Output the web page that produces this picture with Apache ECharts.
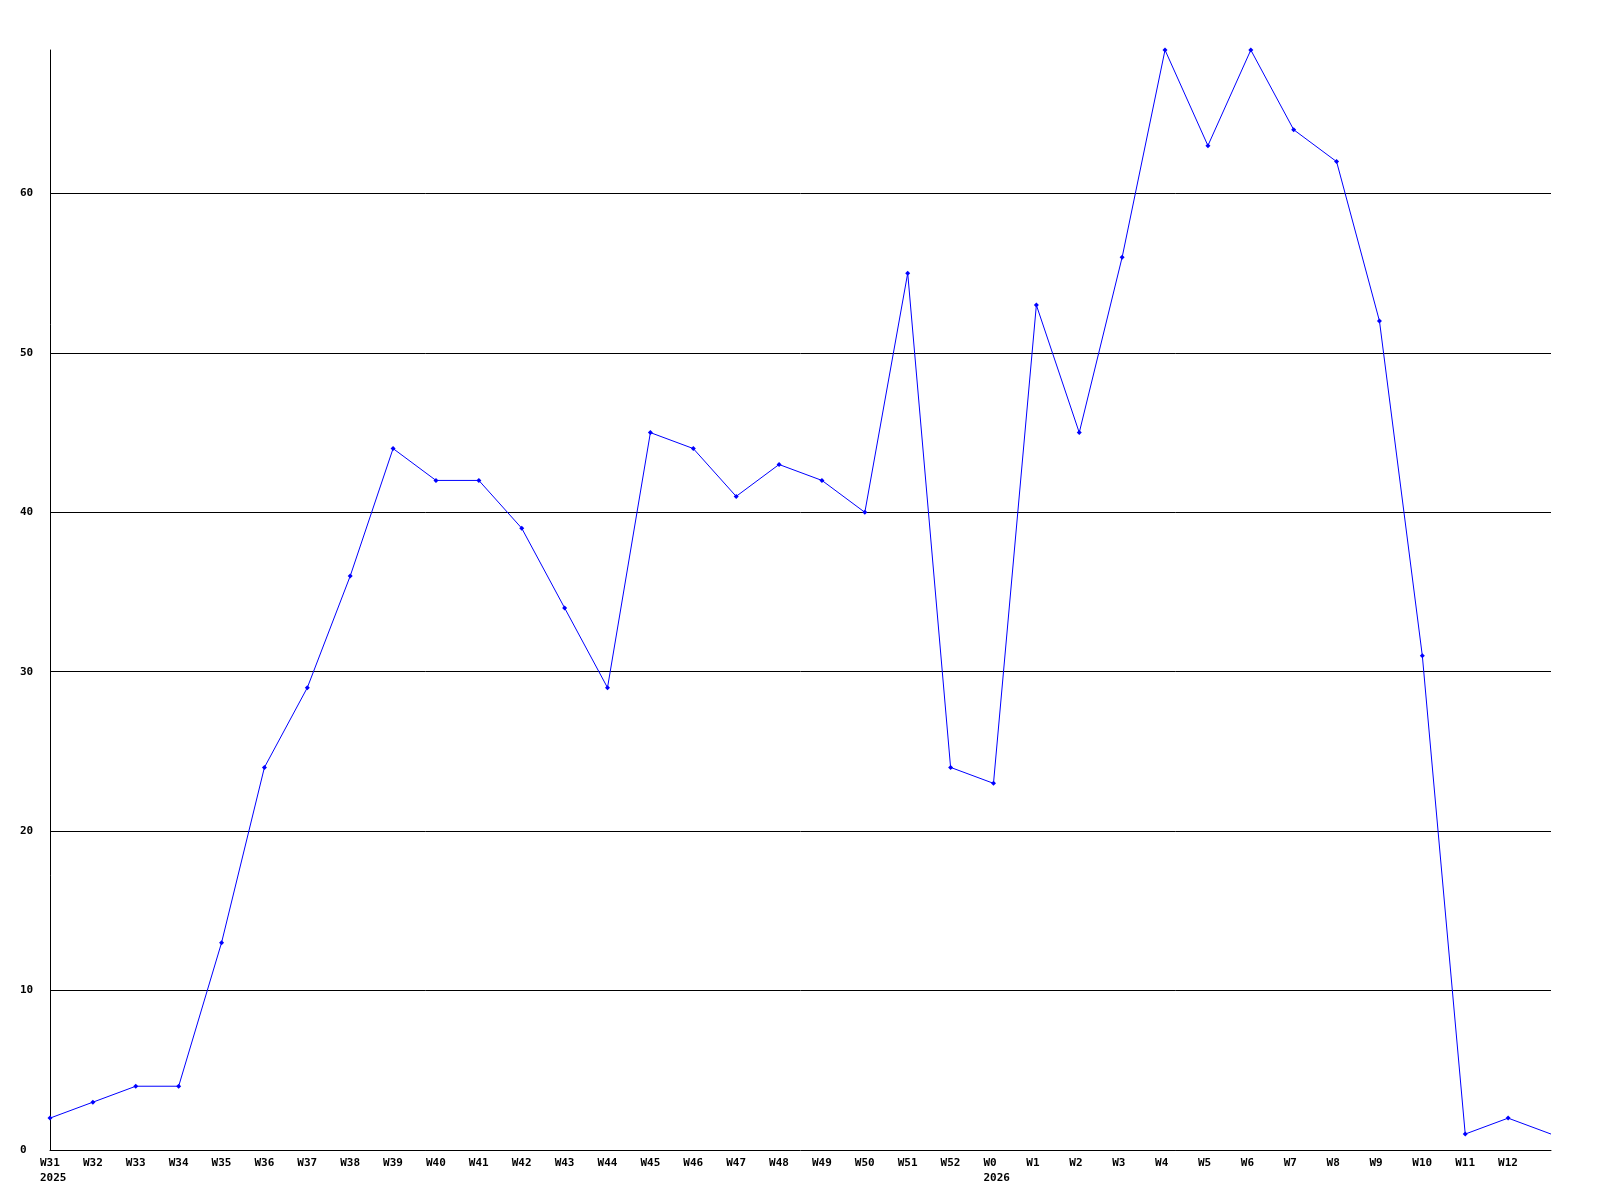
<!DOCTYPE html>
<html>
<head>
<meta charset="utf-8">
<script src="https://cdn.jsdelivr.net/npm/echarts@6/dist/echarts.min.js"></script>
<style>html,body{margin:0;padding:0;background:#fff}#c{width:1600px;height:1200px}</style>
</head>
<body>
<div id="c"></div>
<script>
const weeks = ['W31','W32','W33','W34','W35','W36','W37','W38','W39','W40','W41','W42','W43','W44','W45','W46','W47','W48','W49','W50','W51','W52','W0','W1','W2','W3','W4','W5','W6','W7','W8','W9','W10','W11','W12','W13'];
const values = [2,3,4,4,13,24,29,36,44,42,42,39,34,29,45,44,41,43,42,40,55,24,23,53,45,56,69,63,69,64,62,52,31,1,2,1];
const yearMarks = [['W31','2025'],['W0','2026']];
const yMax = 69;
const yInterval = 10;

const chart = echarts.init(document.getElementById('c'), null, {renderer:'canvas'});
const font = 'DejaVu Sans Mono';
const yearOf = {};
yearMarks.forEach(([w,y]) => { yearOf[w] = y; });
const lastIdx = weeks.length - 1;
chart.setOption({
  animation: false,
  backgroundColor: '#fff',
  grid: {left: 50, right: 49, top: 50, bottom: 50, containLabel: false},
  xAxis: {
    type: 'category',
    data: weeks,
    boundaryGap: false,
    axisLine: {show: true, lineStyle: {color: '#000', width: 1}},
    axisTick: {show: false},
    splitLine: {show: false},
    axisLabel: {
      interval: 0,
      margin: 6,
      fontFamily: font,
      fontWeight: 'bold',
      fontSize: 11,
      color: '#000',
      lineHeight: 15,
      formatter: function (v, i) {
        if (i === lastIdx) return '';
        const y = yearOf[v];
        return '{l|' + v + '}' + (y ? '\n{l|' + y + '}' : '');
      },
      rich: {
        l: {align: 'left', width: 20, fontFamily: font, fontWeight: 'bold', fontSize: 11, color: '#000', lineHeight: 15}
      }
    }
  },
  yAxis: {
    type: 'value',
    min: 0,
    max: yMax,
    interval: yInterval,
    axisLine: {show: true, lineStyle: {color: '#000', width: 1}},
    axisTick: {show: false},
    splitLine: {show: true, showMaxLine: false, showMinLine: false, lineStyle: {color: '#000', width: 1}},
    axisLabel: {
      showMaxLabel: false,
      align: 'left',
      margin: 30,
      fontFamily: font,
      fontWeight: 'bold',
      fontSize: 11,
      color: '#000'
    }
  },
  series: [{
    type: 'line',
    data: values.map((v, i) => i === lastIdx ? {value: v, symbol: 'none'} : v),
    symbol: 'diamond',
    symbolSize: 5,
    showAllSymbol: true,
    lineStyle: {color: '#0000ff', width: 1},
    itemStyle: {color: '#0000ff'},
    clip: false
  }]
});
</script>
</body>
</html>
